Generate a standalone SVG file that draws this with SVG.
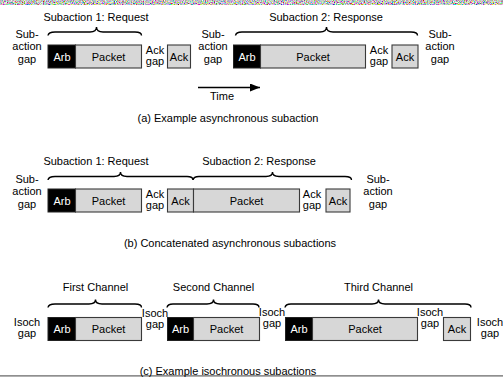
<svg xmlns="http://www.w3.org/2000/svg" width="503" height="377" viewBox="0 0 503 377">
<style>
.t{font-family:"Liberation Sans",Arial,sans-serif;font-size:11px;fill:#000;text-anchor:middle}
.w{fill:#fff}
.arb{fill:#000;stroke:#222;stroke-width:1}
.pk{fill:#d7d7d7;stroke:#3a3a3a;stroke-width:1.1}
.br{fill:none;stroke:#000;stroke-width:1.4}
</style>
<defs>
<filter id="noise" x="0" y="0" width="100%" height="100%">
<feTurbulence type="fractalNoise" baseFrequency="0.9" numOctaves="2" seed="3"/>
<feColorMatrix values="2.2 0 0 0 -0.55 0 2.2 0 0 -0.55 0 0 2.2 0 -0.55 0 0 0 0 1"/>
</filter>
<marker id="ah" markerWidth="10" markerHeight="8" refX="10" refY="4" orient="auto" markerUnits="userSpaceOnUse">
<path d="M0,0 L10,4 L0,8 Z" fill="#000"/>
</marker>
</defs>
<rect width="503" height="377" fill="#fff"/>
<rect x="0" y="0" width="503" height="4.5" filter="url(#noise)"/>
<rect x="0" y="375" width="503" height="1.7" fill="#8f8f8f"/>

<g id="braces">
<path class="br" d="M48,35.5 Q48.5,32 55,32 L90,32 Q96.5,32 96.5,27 Q96.5,32 103,32 L135,32 Q141.5,32 141.5,35.5"/>
<path class="br" d="M235.5,35.5 Q236,32 242,32 L320,32 Q326.5,32 326.5,27 Q326.5,32 333,32 L411,32 Q417.5,32 417.5,35.5"/>
<path class="br" d="M48,180 Q48.5,176.5 55,176.5 L114,176.5 Q120.5,176.5 120.5,172 Q120.5,176.5 127,176.5 L187,176.5 Q193,176.5 193,180"/>
<path class="br" d="M193,180 Q193.5,176.5 199,176.5 L266,176.5 Q272.5,176.5 272.5,172 Q272.5,176.5 279,176.5 L345,176.5 Q351.5,176.5 351.5,180"/>
<path class="br" d="M48,307.5 Q48.5,304 55,304 L89,304 Q95.5,304 95.5,299.5 Q95.5,304 102,304 L135,304 Q141.5,304 141.5,307.5"/>
<path class="br" d="M167,307.5 Q167.5,304 173,304 L207,304 Q213.5,304 213.5,299.5 Q213.5,304 220,304 L253,304 Q259,304 259,307.5"/>
<path class="br" d="M285,307.5 Q285.5,304 291,304 L372,304 Q378.5,304 378.5,299.5 Q378.5,304 385,304 L465,304 Q471,304 471,307.5"/>
</g>

<g id="connectors">
<line x1="198" y1="87.5" x2="260" y2="87.5" stroke="#000" stroke-width="1.5" marker-end="url(#ah)"/>
</g>

<!-- (a) -->
<g id="a-labels">
<text class="t" x="96" y="21">Subaction 1: Request</text>
<text class="t" x="326" y="21">Subaction 2: Response</text>
<text class="t" x="222" y="100">Time</text>
<text class="t" x="228" y="122">(a) Example asynchronous subaction</text>
</g>
<g id="a-gap1"><text class="t" x="27" y="37.5">Sub-</text><text class="t" x="27" y="50">action</text><text class="t" x="27" y="62.5">gap</text></g>
<g id="a-arb1"><rect class="arb" x="48" y="45" width="27.5" height="23"/><text class="t w" x="62" y="60.5">Arb</text></g>
<g id="a-pk1"><rect class="pk" x="75.5" y="45" width="66" height="23"/><text class="t" x="108.5" y="60.5">Packet</text></g>
<g id="a-ackgap1"><text class="t" x="155" y="53.5">Ack</text><text class="t" x="155" y="64.5">gap</text></g>
<g id="a-ack1"><rect class="pk" x="167.5" y="45" width="23" height="23"/><text class="t" x="179" y="60.5">Ack</text></g>
<g id="a-gap2"><text class="t" x="213" y="37.5">Sub-</text><text class="t" x="213" y="50">action</text><text class="t" x="213" y="62.5">gap</text></g>
<g id="a-arb2"><rect class="arb" x="233.5" y="45" width="27" height="23"/><text class="t w" x="247" y="60.5">Arb</text></g>
<g id="a-pk2"><rect class="pk" x="260.5" y="45" width="105" height="23"/><text class="t" x="313" y="60.5">Packet</text></g>
<g id="a-ackgap2"><text class="t" x="379" y="53.5">Ack</text><text class="t" x="379" y="64.5">gap</text></g>
<g id="a-ack2"><rect class="pk" x="392" y="45" width="26" height="23"/><text class="t" x="405" y="60.5">Ack</text></g>
<g id="a-gap3"><text class="t" x="440" y="37.5">Sub-</text><text class="t" x="440" y="50">action</text><text class="t" x="440" y="62.5">gap</text></g>

<!-- (b) -->
<g id="b-labels">
<text class="t" x="96" y="165">Subaction 1: Request</text>
<text class="t" x="259" y="165">Subaction 2: Response</text>
<text class="t" x="230" y="247">(b) Concatenated asynchronous subactions</text>
</g>
<g id="b-gap1"><text class="t" x="27" y="182.5">Sub-</text><text class="t" x="27" y="195">action</text><text class="t" x="27" y="207.5">gap</text></g>
<g id="b-arb1"><rect class="arb" x="48" y="189" width="27.5" height="23"/><text class="t w" x="62" y="204.5">Arb</text></g>
<g id="b-pk1"><rect class="pk" x="75.5" y="189" width="66" height="23"/><text class="t" x="108.5" y="204.5">Packet</text></g>
<g id="b-ackgap1"><text class="t" x="155" y="197.5">Ack</text><text class="t" x="155" y="208.5">gap</text></g>
<g id="b-ack1"><rect class="pk" x="167.5" y="189" width="26" height="23"/><text class="t" x="180.5" y="204.5">Ack</text></g>
<g id="b-pk2"><rect class="pk" x="193.5" y="189" width="106" height="23"/><text class="t" x="246.5" y="204.5">Packet</text></g>
<g id="b-ackgap2"><text class="t" x="312" y="197.5">Ack</text><text class="t" x="312" y="208.5">gap</text></g>
<g id="b-ack2"><rect class="pk" x="326" y="189" width="24" height="23"/><text class="t" x="338" y="204.5">Ack</text></g>
<g id="b-gap2"><text class="t" x="378" y="182.5">Sub-</text><text class="t" x="378" y="195">action</text><text class="t" x="378" y="207.5">gap</text></g>

<!-- (c) -->
<g id="c-labels">
<text class="t" x="95.5" y="291">First Channel</text>
<text class="t" x="213.5" y="291">Second Channel</text>
<text class="t" x="378.5" y="291">Third Channel</text>
<text class="t" x="228" y="375">(c) Example isochronous subactions</text>
</g>
<g id="c-gap0"><text class="t" x="27" y="325.5">Isoch</text><text class="t" x="27" y="336.5">gap</text></g>
<g id="c-arb1"><rect class="arb" x="48" y="317.5" width="27.5" height="23"/><text class="t w" x="62" y="333">Arb</text></g>
<g id="c-pk1"><rect class="pk" x="75.5" y="317.5" width="66" height="23"/><text class="t" x="108.5" y="333">Packet</text></g>
<g id="c-gap1"><text class="t" x="155" y="317">Isoch</text><text class="t" x="155" y="328">gap</text></g>
<g id="c-arb2"><rect class="arb" x="167.5" y="317.5" width="26" height="23"/><text class="t w" x="180.5" y="333">Arb</text></g>
<g id="c-pk2"><rect class="pk" x="193.5" y="317.5" width="66" height="23"/><text class="t" x="226.5" y="333">Packet</text></g>
<g id="c-gap2"><text class="t" x="272" y="315.5">Isoch</text><text class="t" x="272" y="326.5">gap</text></g>
<g id="c-arb3"><rect class="arb" x="285.5" y="317.5" width="27" height="23"/><text class="t w" x="299" y="333">Arb</text></g>
<g id="c-pk3"><rect class="pk" x="312.5" y="317.5" width="105" height="23"/><text class="t" x="365" y="333">Packet</text></g>
<g id="c-gap3"><text class="t" x="430" y="315.5">Isoch</text><text class="t" x="430" y="326.5">gap</text></g>
<g id="c-ack"><rect class="pk" x="443.5" y="317.5" width="27" height="23"/><text class="t" x="457" y="333">Ack</text></g>
<g id="c-gap4"><text class="t" x="490" y="325.5">Isoch</text><text class="t" x="490" y="336.5">gap</text></g>
</svg>
